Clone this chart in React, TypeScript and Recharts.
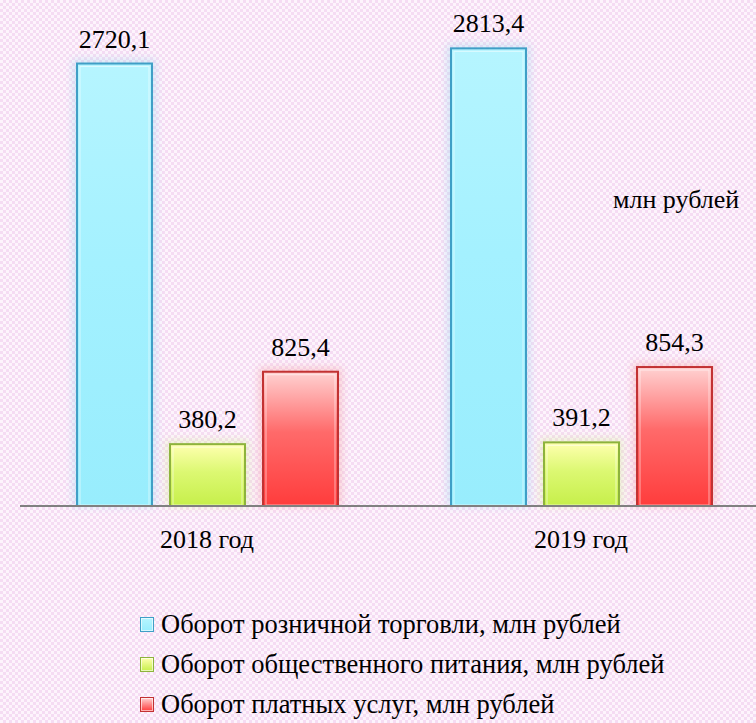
import { BarChart, Bar, XAxis, YAxis, LabelList, Legend } from 'recharts'

const years = ['2018 год', '2019 год']
const retail = [2720.1, 2813.4]
const catering = [380.2, 391.2]
const services = [825.4, 854.3]
const seriesNames = [
  'Оборот розничной торговли, млн рублей',
  'Оборот общественного питания, млн рублей',
  'Оборот платных услуг, млн рублей',
]
const unitNote = 'млн рублей'

const data = years.map((year, i) => ({
  year,
  retail: retail[i],
  catering: catering[i],
  services: services[i],
}))

const FONT = "'Liberation Serif', 'Times New Roman', Tinos, 'DejaVu Serif', serif"

const tones = {
  retail: { top: '#b6f5ff', mid: '#a4f1ff', bottom: '#98edfd', stroke: '#3f9fc6', glow: '#9fd8f0' },
  catering: { top: '#ffffb0', mid: '#dcf872', bottom: '#c6ef4a', stroke: '#8db33c', glow: '#d8ef9a' },
  services: { top: '#ffd2d2', mid: '#ff6a6a', bottom: '#ff3c3c', stroke: '#c23232', glow: '#f5a0a0' },
}
type ToneKey = keyof typeof tones

function GlossyBar(props: any) {
  const { x, y, width, height, tone, index } = props
  const t = tones[tone as ToneKey]
  const id = `g-${tone}-${index}`
  if (!height || height <= 0) return null
  return (
    <g>
      <defs>
        <linearGradient id={id} x1="0" y1="0" x2="0" y2="1">
          <stop offset="0%" stopColor={t.top} />
          <stop offset="45%" stopColor={t.mid} />
          <stop offset="100%" stopColor={t.bottom} />
        </linearGradient>
        <filter id={`${id}-blur`} x="-30%" y="-30%" width="160%" height="160%">
          <feGaussianBlur stdDeviation="4" />
        </filter>
      </defs>
      <rect x={x - 4} y={y - 4} width={width + 8} height={height + 4} fill={t.glow} opacity={0.45} filter={`url(#${id}-blur)`} />
      <rect x={x} y={y} width={width} height={height} fill={`url(#${id})`} stroke={t.stroke} strokeWidth={2} />
      <rect x={x + 3} y={y + 3} width={width - 6} height={height - 4} fill="none" stroke="#ffffff" strokeOpacity={0.55} strokeWidth={1} />
    </g>
  )
}

function YearTick(props: any) {
  const { x, y, payload } = props
  return (
    <text x={x} y={y} dy={34} textAnchor="middle" style={{ fontFamily: FONT, fontSize: 26 }} fill="#000">
      {payload.value}
    </text>
  )
}

const fmt = (v: number) => v.toFixed(1).replace('.', ',')

function LegendBox() {
  const keys: ToneKey[] = ['retail', 'catering', 'services']
  return (
    <div style={{ fontFamily: FONT, fontSize: 26.5, color: '#000' }}>
      {keys.map((k, i) => (
        <div key={k} style={{ display: 'flex', alignItems: 'center', height: 40, whiteSpace: 'nowrap' }}>
          <span
            style={{
              display: 'inline-block',
              width: 12,
              height: 13,
              marginRight: 7,
              border: `1px solid ${tones[k].stroke}`,
              background: `linear-gradient(${tones[k].top}, ${tones[k].bottom})`,
              boxShadow: 'inset 0 0 0 1px rgba(255,255,255,0.6)',
            }}
          />
          {seriesNames[i]}
        </div>
      ))}
    </div>
  )
}

const labelStyle = { fontFamily: FONT, fontSize: 26, fill: '#000' }

export default function App() {
  return (
    <div
      style={{
        position: 'relative',
        width: 756,
        height: 723,
        overflow: 'hidden',
        fontFamily: FONT,
        background: 'repeating-conic-gradient(#f5dcf3 0 25%, #fdf4fc 0 50%) 0 0 / 6px 6px',
      }}
    >
      <style>{'body{margin:0}'}</style>
      <BarChart
        width={776}
        height={723}
        data={data}
        margin={{ top: 18, right: 8, left: 20, bottom: 177 }}
        barSize={75}
        barGap={18}
        style={{ fontFamily: FONT }}
      >
        <XAxis
          dataKey="year"
          height={40}
          tickLine={false}
          axisLine={{ stroke: '#808080', strokeWidth: 2 }}
          tick={<YearTick />}
          interval={0}
        />
        <YAxis hide domain={[0, 3000]} />
        <Legend
          layout="vertical"
          verticalAlign="middle"
          align="center"
          content={() => <LegendBox />}
          wrapperStyle={{ top: 604, left: 140, width: 'auto' }}
        />
        <Bar dataKey="retail" name={seriesNames[0]} isAnimationActive={false} shape={(p: any) => <GlossyBar {...p} tone="retail" />}>
          <LabelList dataKey="retail" position="top" offset={16} formatter={fmt} style={labelStyle} />
        </Bar>
        <Bar dataKey="catering" name={seriesNames[1]} isAnimationActive={false} shape={(p: any) => <GlossyBar {...p} tone="catering" />}>
          <LabelList dataKey="catering" position="top" offset={16} formatter={fmt} style={labelStyle} />
        </Bar>
        <Bar dataKey="services" name={seriesNames[2]} isAnimationActive={false} shape={(p: any) => <GlossyBar {...p} tone="services" />}>
          <LabelList dataKey="services" position="top" offset={16} formatter={fmt} style={labelStyle} />
        </Bar>
      </BarChart>
      <div style={{ position: 'absolute', left: 613, top: 185, fontFamily: FONT, fontSize: 26, whiteSpace: 'nowrap' }}>
        {unitNote}
      </div>
    </div>
  )
}
